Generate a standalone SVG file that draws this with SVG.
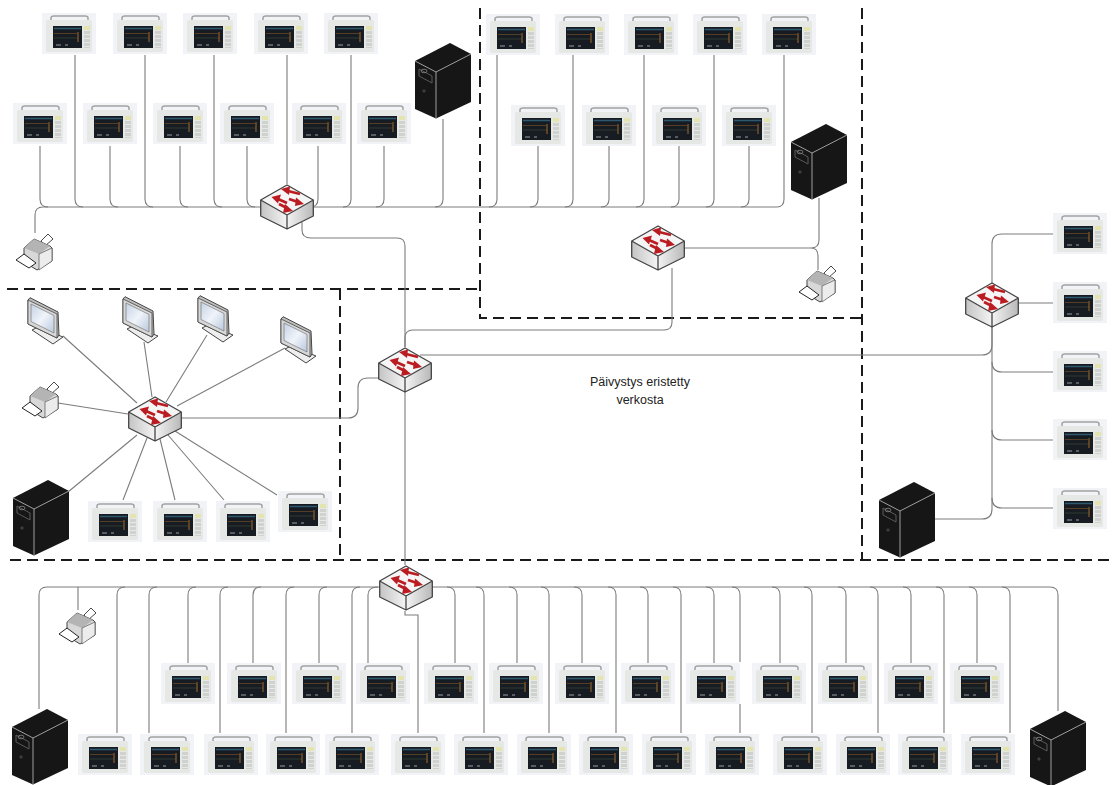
<svg xmlns="http://www.w3.org/2000/svg" width="1115" height="785" viewBox="0 0 1115 785">
<style>
.c{fill:none;stroke:#7c7c7c;stroke-width:1.1}
.d{fill:none;stroke:#1a1a1a;stroke-width:2;stroke-dasharray:11 6}
.t{font-family:"Liberation Sans",Arial,sans-serif;font-size:12.5px;fill:#222;text-anchor:middle}
</style>
<defs>
<filter id="soft" x="-5%" y="-5%" width="110%" height="110%"><feGaussianBlur stdDeviation="0.4"/></filter>
<linearGradient id="swL" x1="0" x2="1" y1="0" y2="0"><stop offset="0" stop-color="#c4c4c4"/><stop offset="1" stop-color="#f4f4f4"/></linearGradient>
<linearGradient id="swR" x1="0" x2="1" y1="0" y2="0"><stop offset="0" stop-color="#f4f4f4"/><stop offset="1" stop-color="#b8b8b8"/></linearGradient>
<linearGradient id="scr" x1="0" x2="1" y1="0" y2="1"><stop offset="0" stop-color="#c4d2e4"/><stop offset=".5" stop-color="#f0f4fa"/><stop offset="1" stop-color="#b8c8dc"/></linearGradient>
<symbol id="monitor" width="54" height="41" viewBox="0 0 54 41">
<rect width="54" height="41" fill="#f1f3f6"/>
<g filter="url(#soft)">
<path d="M9 8V5Q9 3 12 3H43Q46 3 46 5V8" fill="none" stroke="#a0a4a2" stroke-width="1.5"/>
<rect x="4" y="7" width="46" height="32" rx="2" fill="#e6e8e6"/>
<rect x="11" y="13" width="29" height="22" fill="#181c24"/>
<path d="M12 15.500H39" stroke="#2e5a70" stroke-width="1.500"/>
<path d="M12 20.500H35" stroke="#6e4a2a" stroke-width=".7"/>
<path d="M12 25H36" stroke="#3c4436" stroke-width=".7"/>
<path d="M36 19V29" stroke="#a06a28" stroke-width="1"/>
<path d="M14 32H19M23 32H26" stroke="#9a9ea2" stroke-width="1.200"/>
<rect x="42" y="13" width="6" height="4" fill="#e4e4b0"/>
<path d="M45 18V35" stroke="#cfd2cf" stroke-width="6" stroke-dasharray="3 1"/>
</g>
</symbol>
<symbol id="switch" width="54" height="46" viewBox="0 0 54 46">
<g filter="url(#soft)">
<path d="M.7 16V32L27 45V31Z" fill="url(#swL)"/>
<path d="M53.300 16V32L27 45V31Z" fill="url(#swR)"/>
<path d="M27 1L53.300 16L27 31L.7 16Z" fill="#f5f5f5"/>
<path d="M27 1L53.300 16V32L27 45L.7 32V16ZM.7 16L27 31L53.300 16M27 31V45" fill="none" stroke="#444" stroke-width="1.300" stroke-linejoin="round"/>
<g fill="#bb1c22" stroke="#bb1c22" stroke-width="2.800">
<path d="M40 10L28 7" fill="none"/><path d="M21 5L30 2.500L29 11Z" stroke="none"/>
<path d="M27 19L18 15" fill="none"/><path d="M11.500 13L21 10.500L18 19.500Z" stroke="none"/>
<path d="M29 15L38 18" fill="none"/><path d="M44 20L36 13.500L35 22Z" stroke="none"/>
<path d="M19 20L27 24" fill="none"/><path d="M33 27L25 20L23 29Z" stroke="none"/>
</g>
</g>
</symbol>
<symbol id="server" width="56" height="76" viewBox="0 0 56 76">
<g filter="url(#soft)">
<path d="M0 18L35 0L56 11V59L21 75.500L0 66Z" fill="#141414"/>
<path d="M0 18L21 29L56 11M21 29V75.500" fill="none" stroke="#a0a0a0" stroke-width="1"/>
<path d="M4 26L17 33V40L4 33Z" fill="none" stroke="#5a5a5a" stroke-width="1"/>
<ellipse cx="9" cy="28" rx="3" ry="1.800" fill="none" stroke="#8a8a8a" stroke-width=".8"/>
<circle cx="9" cy="48" r="1.800" fill="#3c3c3c"/>
</g>
</symbol>
<symbol id="printer" width="38" height="38" viewBox="0 0 38 38">
<g filter="url(#soft)">
<path d="M25 8L32 1L37 6L29 13Z" fill="#fff" stroke="#333" stroke-width=".9"/>
<path d="M8 15L18 6L34 13L36 15V28L21 37L8 29Z" fill="#d8d8d8" stroke="#444" stroke-width="1"/>
<path d="M8 15L18 6L34 13L23 21Z" fill="#b4b4b4"/>
<path d="M23 21V37L36 28V15Z" fill="#ececec" stroke="#555" stroke-width=".7"/>
<path d="M0 27L8 21L20 30L13 35Z" fill="#fff" stroke="#222" stroke-width="1"/>
</g>
</symbol>
<symbol id="screen" width="37" height="48" viewBox="0 0 37 48">
<g filter="url(#soft)">
<path d="M5 33L11 30L36 40L26 47Z" fill="#eee" stroke="#444" stroke-width="1"/>
<path d="M1 3L3 .7L31 15L32 38L30 41L1 27Z" fill="#bdbdbd" stroke="#444" stroke-width="1"/>
<path d="M1 3L30 17V41L1 27Z" fill="#d8d8d8" stroke="#444" stroke-width=".8"/>
<path d="M4 7L27 18.500V36L4 24.500Z" fill="url(#scr)" stroke="#666" stroke-width=".6"/>
</g>
</symbol>
</defs>
<rect width="1115" height="785" fill="#fff"/>
<g id="zones">
<path class="d" d="M7 289H480M480 8V318H862M862 8V560M340 289V560M10 560H1115"/>
</g>
<g id="connectors">
<path class="c" d="M35 233V215Q35 207 43 207H777Q784 207 784 199V55"/>
<path class="c" d="M40 146V199Q40 207 48 207M75 55V199Q75 207 83 207M110 146V199Q110 207 118 207M145 55V199Q145 207 153 207M180 146V199Q180 207 188 207M214 55V199Q214 207 222 207M247 146V199Q247 207 255 207M287 55V184"/>
<path class="c" d="M318 146V199Q318 207 310 207M351 55V199Q351 207 343 207M384 146V199Q384 207 376 207M443 119V199Q443 207 435 207"/>
<path class="c" d="M497 55V199Q497 207 489 207M538 146V199Q538 207 530 207M573 55V199Q573 207 565 207M609 146V199Q609 207 601 207M644 55V199Q644 207 636 207M679 146V199Q679 207 671 207M714 55V199Q714 207 706 207M749 146V199Q749 207 741 207"/>
<path class="c" d="M302 222V230Q302 238 311 238H397Q405 238 405 246V347M405 392V565"/>
<path class="c" d="M405 347V338Q405 330 413 330H664Q672 330 672 322V268"/>
<path class="c" d="M420 355H982Q992 355 992 345V327"/>
<path class="c" d="M684 248H811Q819 248 819 240V198M811 248Q818 248 818 256V270"/>
<path class="c" d="M992 283V244Q992 234 1002 234H1053M1018 303H1053M992 327V509Q992 519 982 519H934"/>
<path class="c" d="M992 362Q992 372 1002 372H1053M992 430Q992 440 1002 440H1053M992 498Q992 508 1002 508H1053"/>
<path class="c" d="M63 336L137 403M144 342L152 397M207 335L166 402M285 348L177 406M58 403L128 414M68 492L137 435M123 500L147 438M175 500L160 439M224 500L168 435M277 495L175 431"/>
<path class="c" d="M182 418H348Q358 418 358 408V388Q358 378 368 378H379"/>
<path class="c" d="M39 709V595Q39 587 47 587H1050Q1058 587 1058 595V711M78 587V610"/>
<path class="c" d="M117 733V595Q117 587 125 587M149 733V595Q149 587 157 587M188 663V595Q188 587 196 587M220 733V595Q220 587 228 587M253 663V595Q253 587 261 587M286 733V595Q286 587 294 587M319 663V595Q319 587 327 587M352 733V595Q352 587 360 587M368 663V595Q368 587 378 587"/>
<path class="c" d="M405 611V615H418V733"/>
<path class="c" d="M455 663V595Q455 587 447 587M484 733V595Q484 587 476 587M517 663V595Q517 587 509 587M549 733V595Q549 587 541 587M582 663V595Q582 587 574 587M616 733V595Q616 587 608 587M648 663V595Q648 587 640 587M681 733V595Q681 587 673 587M714 663V595Q714 587 706 587M740 662V595Q740 587 732 587M740 704V733M780 663V595Q780 587 772 587M812 733V595Q812 587 804 587M846 663V595Q846 587 838 587M878 733V595Q878 587 870 587M911 663V595Q911 587 903 587M944 733V595Q944 587 936 587M977 663V595Q977 587 969 587M1010 733V595Q1010 587 1002 587"/>
</g>
<g id="monitor-t1"><use href="#monitor" x="42" y="13"/></g>
<g id="monitor-t2"><use href="#monitor" x="113" y="13"/></g>
<g id="monitor-t3"><use href="#monitor" x="183" y="13"/></g>
<g id="monitor-t4"><use href="#monitor" x="254" y="13"/></g>
<g id="monitor-t5"><use href="#monitor" x="324" y="13"/></g>
<g id="monitor-t6"><use href="#monitor" x="13" y="103"/></g>
<g id="monitor-t7"><use href="#monitor" x="83" y="103"/></g>
<g id="monitor-t8"><use href="#monitor" x="153" y="103"/></g>
<g id="monitor-t9"><use href="#monitor" x="220" y="103"/></g>
<g id="monitor-t10"><use href="#monitor" x="292" y="103"/></g>
<g id="monitor-t11"><use href="#monitor" x="357" y="103"/></g>
<g id="monitor-u1"><use href="#monitor" x="486" y="14"/></g>
<g id="monitor-u2"><use href="#monitor" x="555" y="14"/></g>
<g id="monitor-u3"><use href="#monitor" x="624" y="14"/></g>
<g id="monitor-u4"><use href="#monitor" x="693" y="14"/></g>
<g id="monitor-u5"><use href="#monitor" x="762" y="14"/></g>
<g id="monitor-u6"><use href="#monitor" x="511" y="105"/></g>
<g id="monitor-u7"><use href="#monitor" x="582" y="105"/></g>
<g id="monitor-u8"><use href="#monitor" x="652" y="105"/></g>
<g id="monitor-u9"><use href="#monitor" x="722" y="105"/></g>
<g id="monitor-r1"><use href="#monitor" x="1053" y="213"/></g>
<g id="monitor-r2"><use href="#monitor" x="1053" y="282"/></g>
<g id="monitor-r3"><use href="#monitor" x="1053" y="351"/></g>
<g id="monitor-r4"><use href="#monitor" x="1053" y="419"/></g>
<g id="monitor-r5"><use href="#monitor" x="1053" y="488"/></g>
<g id="monitor-l1"><use href="#monitor" x="88" y="501"/></g>
<g id="monitor-l2"><use href="#monitor" x="153" y="501"/></g>
<g id="monitor-l3"><use href="#monitor" x="216" y="501"/></g>
<g id="monitor-l4"><use href="#monitor" x="278" y="491"/></g>
<g id="monitor-b1"><use href="#monitor" x="161" y="663"/></g>
<g id="monitor-b2"><use href="#monitor" x="227" y="663"/></g>
<g id="monitor-b3"><use href="#monitor" x="292" y="663"/></g>
<g id="monitor-b4"><use href="#monitor" x="356" y="663"/></g>
<g id="monitor-b5"><use href="#monitor" x="424" y="663"/></g>
<g id="monitor-b6"><use href="#monitor" x="489" y="663"/></g>
<g id="monitor-b7"><use href="#monitor" x="555" y="663"/></g>
<g id="monitor-b8"><use href="#monitor" x="621" y="663"/></g>
<g id="monitor-b9"><use href="#monitor" x="686" y="663"/></g>
<g id="monitor-b10"><use href="#monitor" x="752" y="663"/></g>
<g id="monitor-b11"><use href="#monitor" x="818" y="663"/></g>
<g id="monitor-b12"><use href="#monitor" x="884" y="663"/></g>
<g id="monitor-b13"><use href="#monitor" x="950" y="663"/></g>
<g id="monitor-c1"><use href="#monitor" x="78" y="734"/></g>
<g id="monitor-c2"><use href="#monitor" x="140" y="734"/></g>
<g id="monitor-c3"><use href="#monitor" x="204" y="734"/></g>
<g id="monitor-c4"><use href="#monitor" x="266" y="734"/></g>
<g id="monitor-c5"><use href="#monitor" x="325" y="734"/></g>
<g id="monitor-c6"><use href="#monitor" x="391" y="734"/></g>
<g id="monitor-c7"><use href="#monitor" x="454" y="734"/></g>
<g id="monitor-c8"><use href="#monitor" x="517" y="734"/></g>
<g id="monitor-c9"><use href="#monitor" x="579" y="734"/></g>
<g id="monitor-c10"><use href="#monitor" x="642" y="734"/></g>
<g id="monitor-c11"><use href="#monitor" x="705" y="734"/></g>
<g id="monitor-c12"><use href="#monitor" x="773" y="734"/></g>
<g id="monitor-c13"><use href="#monitor" x="836" y="734"/></g>
<g id="monitor-c14"><use href="#monitor" x="898" y="734"/></g>
<g id="monitor-c15"><use href="#monitor" x="961" y="734"/></g>
<g id="switch-top-left"><use href="#switch" x="260" y="184"/></g>
<g id="switch-top-right"><use href="#switch" x="631" y="225"/></g>
<g id="switch-centre"><use href="#switch" x="378" y="347"/></g>
<g id="switch-left"><use href="#switch" x="128" y="396"/></g>
<g id="switch-right"><use href="#switch" x="965" y="282"/></g>
<g id="switch-bottom"><use href="#switch" x="379" y="565"/></g>
<g id="server-top-left"><use href="#server" x="415" y="43"/></g>
<g id="server-top-right"><use href="#server" x="791" y="124"/></g>
<g id="server-left"><use href="#server" x="13" y="480"/></g>
<g id="server-right"><use href="#server" x="879" y="482"/></g>
<g id="server-bottom-left"><use href="#server" x="12" y="709"/></g>
<g id="server-bottom-right"><use href="#server" x="1030" y="711"/></g>
<g id="printer-top-left"><use href="#printer" x="16" y="233"/></g>
<g id="printer-top-right"><use href="#printer" x="799" y="265"/></g>
<g id="printer-left"><use href="#printer" x="22" y="381"/></g>
<g id="printer-bottom"><use href="#printer" x="59" y="607"/></g>
<g id="screen-1"><use href="#screen" x="27" y="297"/></g>
<g id="screen-2"><use href="#screen" x="122" y="296"/></g>
<g id="screen-3"><use href="#screen" x="197" y="295"/></g>
<g id="screen-4"><use href="#screen" x="280" y="316"/></g>
<g id="label"><text class="t" x="640" y="386">Päivystys eristetty</text><text class="t" x="640" y="404">verkosta</text></g>
</svg>
